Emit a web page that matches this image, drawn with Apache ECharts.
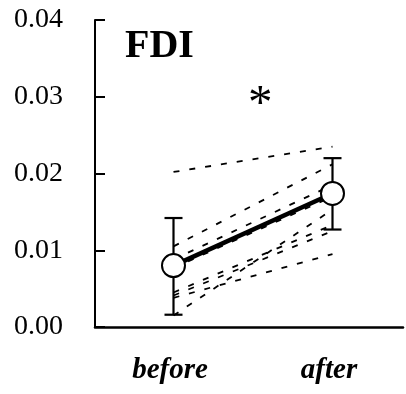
<!DOCTYPE html>
<html>
<head>
<meta charset="utf-8">
<script src="https://cdn.jsdelivr.net/npm/echarts@6/dist/echarts.min.js"></script>
<style>html,body{margin:0;padding:0;background:#fff}#c{width:406px;height:394px}</style>
</head>
<body>
<div id="c"></div>
<script>
const categories = ['before', 'after'];
const yTicks = [0, 0.01, 0.02, 0.03, 0.04];
// individual subjects: [before, after]
const subjectBefore = [0.0202, 0.0105, 0.0088, 0.0077, 0.0045, 0.0041, 0.0038, 0.0015];
const subjectAfter  = [0.0235, 0.0212, 0.0185, 0.0170, 0.0133, 0.0125, 0.0095, 0.0153];
const meanValues = [0.0080, 0.0174];
const errLow  = [0.0016, 0.0127];
const errHigh = [0.0142, 0.0220];

const FONT = "'Liberation Serif', 'Times New Roman', serif";
const chart = echarts.init(document.getElementById('c'), null, {renderer: 'canvas'});

const series = [];
subjectBefore.forEach((b, i) => {
  series.push({
    type: 'line',
    data: [[0, b], [1, subjectAfter[i]]],
    symbol: 'none',
    silent: true,
    z: 2,
    lineStyle: {color: '#000', width: 1.8, type: [6, 10]}
  });
});
series.push({
  type: 'custom',
  z: 3,
  data: categories.map((c, i) => [i, errLow[i], errHigh[i]]),
  encode: {x: 0, y: [1, 2]},
  renderItem: function (params, api) {
    const x = api.value(0);
    const pLo = api.coord([x, api.value(1)]);
    const pHi = api.coord([x, api.value(2)]);
    const w = 9;
    const st = {stroke: '#000', lineWidth: 2.2};
    return {
      type: 'group',
      children: [
        {type: 'line', shape: {x1: pLo[0], y1: pLo[1], x2: pHi[0], y2: pHi[1]}, style: st},
        {type: 'line', shape: {x1: pLo[0] - w, y1: pLo[1], x2: pLo[0] + w, y2: pLo[1]}, style: st},
        {type: 'line', shape: {x1: pHi[0] - w, y1: pHi[1], x2: pHi[0] + w, y2: pHi[1]}, style: st}
      ]
    };
  }
});
series.push({
  type: 'line',
  z: 4,
  data: meanValues.map((v, i) => [i, v]),
  symbol: 'circle',
  symbolSize: 23,
  lineStyle: {color: '#000', width: 4.5},
  itemStyle: {color: '#fff', borderColor: '#000', borderWidth: 2},
  emphasis: {disabled: true}
});

chart.setOption({
  animation: false,
  backgroundColor: '#fff',
  title: {
    text: 'FDI',
    left: 120,
    top: 22,
    textStyle: {fontFamily: FONT, fontWeight: 'bold', fontSize: 40, color: '#000'}
  },
  graphic: [{
    type: 'text',
    left: 248,
    top: 81,
    style: {text: '*', font: "49px 'Liberation Serif', serif", fill: '#000'}
  }],
  grid: {left: 95, right: 3, top: 20, bottom: 67},
  xAxis: {
    type: 'value',
    min: -0.4937,
    max: 1.4434,
    splitLine: {show: false},
    axisLine: {onZero: false, lineStyle: {color: '#000', width: 2.5}},
    axisTick: {show: false},
    axisLabel: {
      customValues: [0, 1],
      formatter: v => categories[Math.round(v)],
      fontFamily: FONT, fontStyle: 'italic', fontWeight: 'bold', fontSize: 29, color: '#000',
      margin: 29,
      padding: [0, 7, 0, 0]
    }
  },
  yAxis: {
    type: 'value',
    min: yTicks[0],
    max: yTicks[yTicks.length - 1],
    interval: 0.01,
    splitLine: {show: false},
    axisLine: {show: true, onZero: false, lineStyle: {color: '#000', width: 2}},
    axisTick: {show: true, inside: true, length: 10, lineStyle: {color: '#000', width: 2}},
    axisLabel: {
      formatter: v => v.toFixed(2),
      fontFamily: FONT, fontSize: 28, color: '#000', margin: 32
    }
  },
  series: series
});
</script>
</body>
</html>
